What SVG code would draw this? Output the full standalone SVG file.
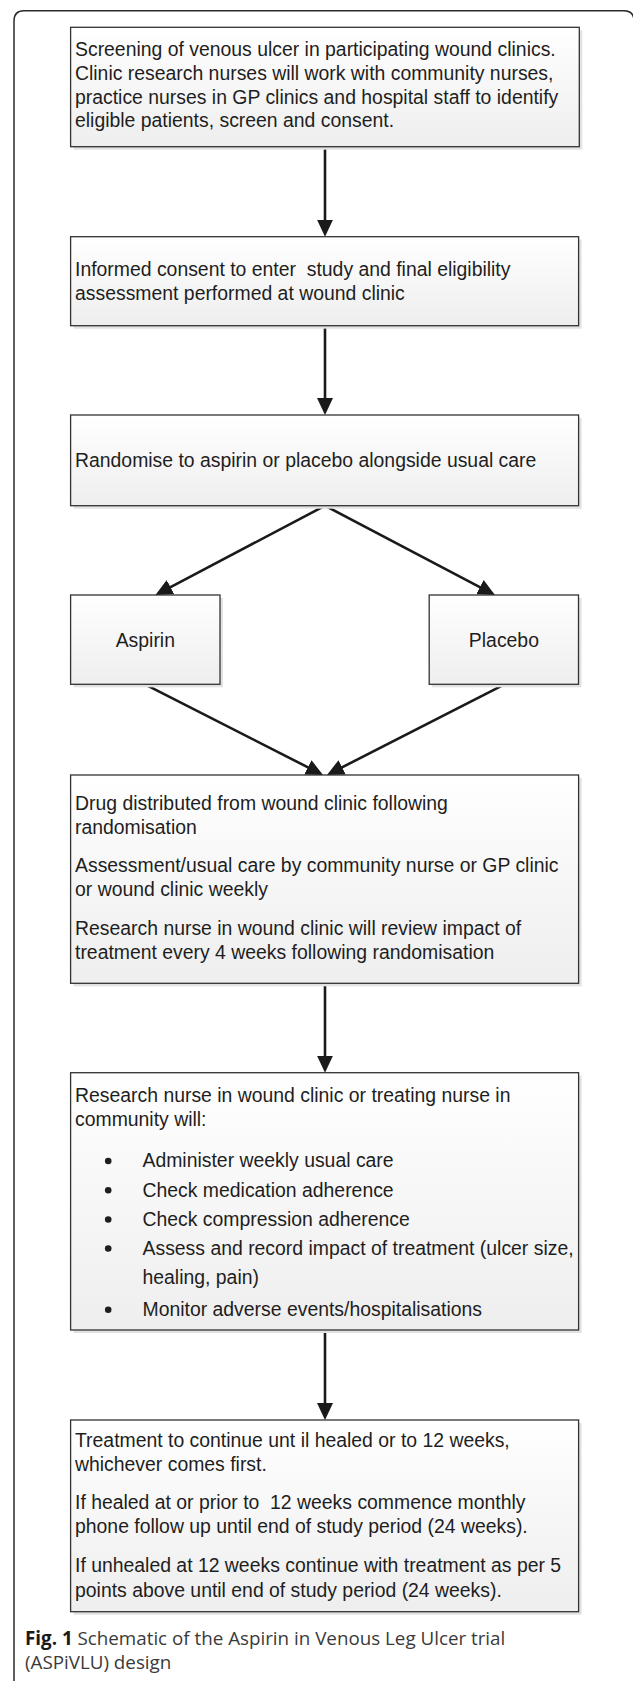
<svg xmlns="http://www.w3.org/2000/svg" width="633" height="1681" viewBox="0 0 633 1681">
<defs>
<linearGradient id="boxfill" x1="0" y1="0" x2="0" y2="1">
<stop offset="0" stop-color="#ffffff"/>
<stop offset="1" stop-color="#eeeeee"/>
</linearGradient>
<marker id="ah" viewBox="0 0 17 16" markerWidth="17" markerHeight="16" refX="9" refY="8" orient="auto" markerUnits="userSpaceOnUse">
<path d="M0,0 L17,8 L0,16 z" fill="#1a1a1a"/>
</marker>
</defs>
<style>
.frame{fill:none;stroke:#2a2a2a;stroke-width:1.5}
.shadow{fill:#e2e2e2}
.box{fill:url(#boxfill);stroke:#333333;stroke-width:1.3}
.t{font-family:"Liberation Sans",Arial,sans-serif;font-size:19.4px;fill:#1e1e1e}
.c{font-family:"Liberation Sans",Arial,sans-serif;font-size:19.4px;fill:#1e1e1e;text-anchor:middle}
.conn{stroke:#1a1a1a;stroke-width:2.6;fill:none;marker-end:url(#ah)}
.bul{fill:#1e1e1e}
.cap{font-family:"Open Sans","Noto Sans",sans-serif;font-size:18.8px;fill:#3a3a3a}
.capb{font-weight:bold;fill:#1a1a1a}
</style>
<rect width="633" height="1681" fill="#ffffff"/>
<path class="frame" d="M14,1681 V21 Q14,10.7 24,10.7 H624 Q634,10.7 634,21 V1681"/>

<g id="connectors">
<path class="conn" d="M325,146.7 V228.7"/>
<path class="conn" d="M325,325.7 V407"/>
<path class="conn" d="M325,505.7 L162.5,591.3"/>
<path class="conn" d="M325,505.7 L487.9,591.3"/>
<path class="conn" d="M145,684.3 L315.9,771.4"/>
<path class="conn" d="M504.5,684.3 L334.1,771.4"/>
<path class="conn" d="M325,983.3 V1064.7"/>
<path class="conn" d="M325,1330 V1412"/>
</g>

<g id="n1">
<rect class="shadow" x="73.6" y="30.3" width="508.7" height="119.4"/>
<rect class="box" x="70.6" y="27.3" width="508.7" height="119.4"/>
<text class="t" x="75" y="56">Screening of venous ulcer in participating wound clinics.</text>
<text class="t" x="75" y="79.8">Clinic research nurses will work with community nurses,</text>
<text class="t" x="75" y="103.6">practice nurses in GP clinics and hospital staff to identify</text>
<text class="t" x="75" y="127.4">eligible patients, screen and consent.</text>
</g>

<g id="n2">
<rect class="shadow" x="73.6" y="239.7" width="508" height="89"/>
<rect class="box" x="70.6" y="236.7" width="508" height="89"/>
<text class="t" x="75" y="275.5" xml:space="preserve">Informed consent to enter  study and final eligibility</text>
<text class="t" x="75" y="299.5">assessment performed at wound clinic</text>
</g>

<g id="n3">
<rect class="shadow" x="73.6" y="418" width="508" height="90.7"/>
<rect class="box" x="70.6" y="415" width="508" height="90.7"/>
<text class="t" x="75" y="467">Randomise to aspirin or placebo alongside usual care</text>
</g>

<g id="n4">
<rect class="shadow" x="73.6" y="598" width="149.4" height="89.3"/>
<rect class="box" x="70.6" y="595" width="149.4" height="89.3"/>
<text class="c" x="145.3" y="646.5">Aspirin</text>
</g>

<g id="n5">
<rect class="shadow" x="432.2" y="598" width="149.3" height="89.3"/>
<rect class="box" x="429.2" y="595" width="149.3" height="89.3"/>
<text class="c" x="503.9" y="646.5">Placebo</text>
</g>

<g id="n6">
<rect class="shadow" x="73.6" y="778" width="508" height="208.3"/>
<rect class="box" x="70.6" y="775" width="508" height="208.3"/>
<text class="t" x="75" y="809.5">Drug distributed from wound clinic following</text>
<text class="t" x="75" y="834">randomisation</text>
<text class="t" x="75" y="871.5">Assessment/usual care by community nurse or GP clinic</text>
<text class="t" x="75" y="896">or wound clinic weekly</text>
<text class="t" x="75" y="934.5">Research nurse in wound clinic will review impact of</text>
<text class="t" x="75" y="959">treatment every 4 weeks following randomisation</text>
</g>

<g id="n7">
<rect class="shadow" x="73.6" y="1075.7" width="508" height="257.3"/>
<rect class="box" x="70.6" y="1072.7" width="508" height="257.3"/>
<text class="t" x="75" y="1101.7">Research nurse in wound clinic or treating nurse in</text>
<text class="t" x="75" y="1125.5">community will:</text>
<circle class="bul" cx="108.2" cy="1161" r="3.3"/>
<text class="t" x="142.5" y="1167.3">Administer weekly usual care</text>
<circle class="bul" cx="108.2" cy="1190.3" r="3.3"/>
<text class="t" x="142.5" y="1196.6">Check medication adherence</text>
<circle class="bul" cx="108.2" cy="1219.5" r="3.3"/>
<text class="t" x="142.5" y="1225.8">Check compression adherence</text>
<circle class="bul" cx="108.2" cy="1248.5" r="3.3"/>
<text class="t" x="142.5" y="1254.8">Assess and record impact of treatment (ulcer size,</text>
<text class="t" x="142.5" y="1283.5">healing, pain)</text>
<circle class="bul" cx="108.2" cy="1309.8" r="3.3"/>
<text class="t" x="142.5" y="1316">Monitor adverse events/hospitalisations</text>
</g>

<g id="n8">
<rect class="shadow" x="73.6" y="1423" width="508" height="191.7"/>
<rect class="box" x="70.6" y="1420" width="508" height="191.7"/>
<text class="t" x="75" y="1446.7">Treatment to continue unt il healed or to 12 weeks,</text>
<text class="t" x="75" y="1470.5">whichever comes first.</text>
<text class="t" x="75" y="1508.5" xml:space="preserve">If healed at or prior to  12 weeks commence monthly</text>
<text class="t" x="75" y="1533">phone follow up until end of study period (24 weeks).</text>
<text class="t" x="75" y="1572">If unhealed at 12 weeks continue with treatment as per 5</text>
<text class="t" x="75" y="1596.7">points above until end of study period (24 weeks).</text>
</g>

<g id="caption">
<text class="cap" x="25" y="1645" xml:space="preserve"><tspan class="capb">Fig. 1</tspan> Schematic of the Aspirin in Venous Leg Ulcer trial</text>
<text class="cap" x="25" y="1668.5">(ASPiVLU) design</text>
</g>
</svg>
